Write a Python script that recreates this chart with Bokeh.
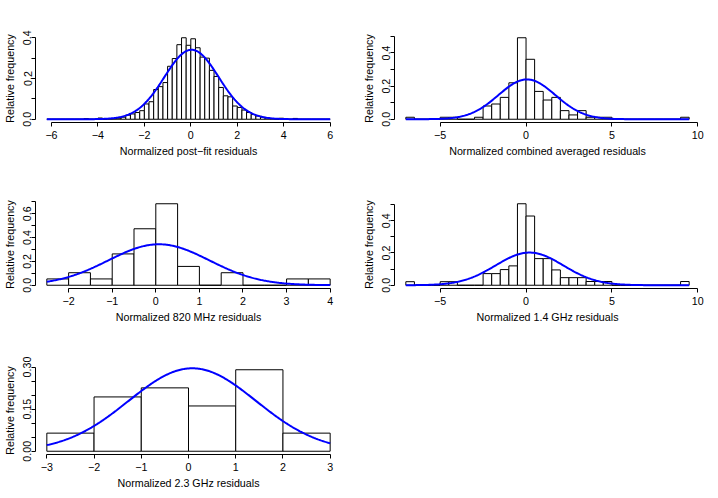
import numpy as np
from bokeh.plotting import figure
from bokeh.models import Range1d, FixedTicker, CustomJSTickFormatter, PrintfTickFormatter
from bokeh.layouts import column, row
from bokeh.embed import file_html
from bokeh.resources import INLINE

# ---------------- data ----------------
ylabel = "Relative frequency"

post_edges = np.round(np.linspace(-6.2, 6.0, 62), 3)
post_density = [0, 0, 0, 0, 0, 0, 0, 0, 0.003, 0, 0, 0.006, 0, 0.002, 0.003, 0.005,
                0.010, 0.020, 0.026, 0.033, 0.042, 0.075, 0.086, 0.146, 0.160, 0.180,
                0.260, 0.298, 0.366, 0.400, 0.363, 0.395, 0.351, 0.305, 0.300, 0.240,
                0.210, 0.156, 0.115, 0.110, 0.065, 0.058, 0.045, 0.033, 0.023, 0.016,
                0.010, 0.006, 0.003, 0, 0.005, 0, 0, 0.004, 0, 0, 0, 0, 0, 0, 0]
post_fit = (0.03, 1.17)

comb_edges = np.round(np.linspace(-7.0, 9.5, 34), 3)
comb_density = [0.012, 0, 0, 0, 0.012, 0.012, 0, 0, 0.012, 0.080, 0.092, 0.132, 0.220, 0.492,
                0.362, 0.168, 0.116, 0.132, 0.052, 0.026, 0.052, 0.012, 0.012, 0.012,
                0, 0, 0, 0, 0, 0, 0, 0, 0.012]
comb_fit = (0.05, 1.66)

mhz820_edges = np.round(np.linspace(-2.5, 4.0, 14), 3)
mhz820_density = [0.053, 0.105, 0.053, 0.263, 0.474, 0.684, 0.158, 0, 0.105, 0, 0, 0.053, 0.053]
mhz820_fit = (0.07, 1.16)

ghz14_edges = np.round(np.linspace(-7.0, 9.5, 34), 3)
ghz14_density = [0.022, 0, 0, 0, 0.022, 0.022, 0, 0, 0, 0.072, 0.072, 0.097, 0.120, 0.505,
                 0.429, 0.165, 0.165, 0.095, 0.047, 0.047, 0.047, 0.023, 0.023, 0.023,
                 0, 0, 0, 0, 0, 0, 0, 0, 0.023]
ghz14_fit = (0.2, 1.97)

ghz23_edges = [-3, -2, -1, 0, 1, 2, 3]
ghz23_density = [0.0645, 0.1935, 0.2258, 0.1613, 0.2903, 0.0645]
ghz23_fit = (0.08, 1.35)

FONT = "Liberation Sans"
FS = "10.7px"

minus_fmt = CustomJSTickFormatter(code="return (tick < 0 ? '\\u2212' : '') + Math.abs(tick).toString();")


def panel(edges, dens, fit, xlabel, xticks, yticks, yminor, yfmt, width, height,
          bl, br, bt, bb):
    edges = np.asarray(edges, dtype=float)
    dens = np.asarray(dens, dtype=float)
    xlo, xhi = edges[0], edges[-1]
    ext = 0.04 * (xhi - xlo)
    ymax = dens.max()
    p = figure(width=width, height=height, output_backend="svg", toolbar_location=None,
               x_range=Range1d(xlo - ext, xhi + ext),
               y_range=Range1d(-0.04 * ymax, ymax * 1.04),
               min_border_left=bl, min_border_right=br, min_border_top=bt, min_border_bottom=bb)
    p.outline_line_color = None
    p.xgrid.visible = False
    p.ygrid.visible = False
    p.background_fill_color = "white"
    p.border_fill_color = "white"

    p.quad(left=edges[:-1], right=edges[1:], bottom=0, top=dens,
           fill_color="white", line_color="black", line_width=1)
    mu, sd = fit
    xs = np.linspace(xlo, xhi, 300)
    ys = np.exp(-0.5 * ((xs - mu) / sd) ** 2) / (sd * np.sqrt(2 * np.pi))
    p.line(xs, ys, line_color="#0000FF", line_width=2)

    for ax in (p.xaxis[0], p.yaxis[0]):
        ax.axis_line_color = "black"
        ax.axis_line_width = 1
        ax.major_tick_line_color = "black"
        ax.major_tick_in = 0
        ax.major_tick_out = 4
        ax.minor_tick_in = 0
        ax.minor_tick_out = 4
        ax.minor_tick_line_color = "black"
        ax.major_label_text_font = FONT
        ax.major_label_text_font_size = FS
        ax.major_label_text_color = "black"
        ax.axis_label_text_font = FONT
        ax.axis_label_text_font_size = FS
        ax.axis_label_text_font_style = "normal"
        ax.axis_label_text_color = "black"

    xa = p.xaxis[0]
    xa.ticker = FixedTicker(ticks=xticks, minor_ticks=[])
    xa.bounds = (xticks[0], xticks[-1])
    xa.formatter = minus_fmt
    xa.major_label_standoff = 4
    xa.axis_label = xlabel
    xa.axis_label_standoff = 3

    ya = p.yaxis[0]
    ya.ticker = FixedTicker(ticks=yticks, minor_ticks=yminor)
    allt = sorted(list(yticks) + list(yminor))
    ya.bounds = (allt[0], allt[-1])
    ya.formatter = PrintfTickFormatter(format=yfmt)
    ya.major_label_orientation = "vertical"
    ya.major_label_standoff = 0
    ya.axis_label = ylabel
    ya.axis_label_standoff = 5
    return p


W, H = 359, 166
p1 = panel(post_edges, post_density, post_fit, "Normalized post\u2212fit residuals",
           [-6, -4, -2, 0, 2, 4, 6], [0, 0.2, 0.4], [0.1, 0.3], "%.1f",
           W, H, 34, 18, 34, 44)
p2 = panel(comb_edges, comb_density, comb_fit, "Normalized combined averaged residuals",
           [-5, 0, 5, 10], [0, 0.2, 0.4], [0.1, 0.3, 0.5], "%.1f",
           W, H, 34, 18, 34, 44)
p3 = panel(mhz820_edges, mhz820_density, mhz820_fit, "Normalized 820 MHz residuals",
           [-2, -1, 0, 1, 2, 3, 4], [0, 0.2, 0.4, 0.6], [0.1, 0.3, 0.5, 0.7], "%.1f",
           W, H, 34, 18, 34, 44)
p4 = panel(ghz14_edges, ghz14_density, ghz14_fit, "Normalized 1.4 GHz residuals",
           [-5, 0, 5, 10], [0, 0.2, 0.4], [0.1, 0.3, 0.5], "%.1f",
           W, H, 34, 18, 34, 44)
p5 = panel(ghz23_edges, ghz23_density, ghz23_fit, "Normalized 2.3 GHz residuals",
           [-3, -2, -1, 0, 1, 2, 3], [0, 0.15, 0.30], [0.05, 0.10, 0.20, 0.25], "%.2f",
           W, H, 34, 18, 34, 44)

layout = column(row(p1, p2), row(p3, p4), row(p5))
open("out.html", "w").write(file_html(layout, INLINE))
